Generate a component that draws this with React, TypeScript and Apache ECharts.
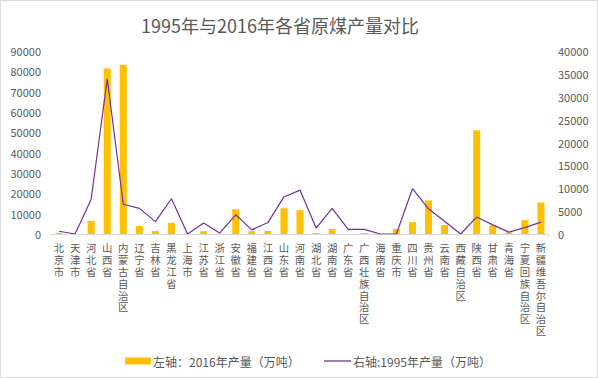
import React, { useEffect, useRef } from "react";
import * as echarts from "echarts";

const provinces = [
  "北京市", "天津市", "河北省", "山西省", "内蒙古自治区", "辽宁省", "吉林省", "黑龙江省",
  "上海市", "江苏省", "浙江省", "安徽省", "福建省", "江西省", "山东省", "河南省",
  "湖北省", "湖南省", "广东省", "广西壮族自治区", "海南省", "重庆市", "四川省", "贵州省",
  "云南省", "西藏自治区", "陕西省", "甘肃省", "青海省", "宁夏回族自治区", "新疆维吾尔自治区",
];

const output2016 = [
  600, 0, 6470, 81400, 83200, 3900, 1500, 5500,
  0, 1400, 0, 12200, 1400, 1500, 12600, 11700,
  500, 2400, 0, 500, 0, 2500, 5800, 16500,
  4400, 0, 51000, 4300, 800, 6800, 15500,
];

const output1995 = [
  600, 0, 7600, 33900, 6500, 5600, 2700, 7700,
  0, 2400, 200, 4200, 900, 2500, 8100, 9600,
  1300, 5600, 1000, 1000, 0, 0, 9900, 5500,
  2800, 0, 3700, 2000, 400, 1400, 2600,
];

const leftTicks = { min: 0, max: 90000, interval: 10000 };
const rightTicks = { min: 0, max: 40000, interval: 5000 };

const seriesNames = ["左轴：2016年产量（万吨）", "右轴:1995年产量（万吨）"];
const titleText = "1995年与2016年各省原煤产量对比";

const FONT = "'Noto Sans CJK SC', 'Liberation Sans', sans-serif";
const LABEL_FONT = "'Liberation Sans', 'Noto Sans CJK SC', sans-serif";
const GRAY = "#595959";
const BAR = "#FFC000";
const LINE = "#7030A0";

export default function App() {
  const ref = useRef<HTMLDivElement>(null);
  useEffect(() => {
    document.body.style.margin = "0";
    if (!ref.current) return;
    const chart = echarts.init(ref.current, undefined, { renderer: "svg" });
    const legendText = { fontSize: 12, color: GRAY, fontFamily: FONT, padding: [0, 0, 0, -3] };
    chart.setOption({
      animation: false,
      backgroundColor: "#ffffff",
      textStyle: { fontFamily: FONT },
      title: {
        text: titleText,
        left: 135,
        top: 10,
        textStyle: { fontSize: 18, fontWeight: "normal", color: GRAY, fontFamily: FONT },
      },
      legend: [
        {
          left: 119,
          top: 349,
          itemWidth: 26,
          itemHeight: 7,
          textStyle: legendText,
          data: [{ name: seriesNames[0], icon: "rect" }],
        },
        {
          left: 318,
          top: 349,
          itemWidth: 27,
          itemHeight: 1.3,
          textStyle: legendText,
          data: [{ name: seriesNames[1], icon: "rect", itemStyle: { color: LINE } }],
        },
      ],
      grid: { left: 50, right: 48, top: 50, bottom: 143, containLabel: false },
      xAxis: {
        type: "category",
        data: provinces,
        axisLine: { lineStyle: { color: "#d9d9d9" } },
        axisTick: { show: false },
        axisLabel: {
          interval: 0,
          fontSize: 10.4,
          lineHeight: 11.8,
          fontFamily: LABEL_FONT,
          color: GRAY,
          margin: 9,
          verticalAlign: "top",
          formatter: (v: string) => v.split("").join("\n"),
        },
      },
      yAxis: [
        {
          type: "value",
          ...leftTicks,
          splitLine: { show: false },
          axisLine: { show: false },
          axisTick: { show: false },
          axisLabel: { fontSize: 11, color: GRAY, margin: 10, formatter: (v: number) => String(v) },
        },
        {
          type: "value",
          ...rightTicks,
          position: "right",
          splitLine: { show: false },
          axisLine: { show: false },
          axisTick: { show: false },
          axisLabel: { fontSize: 11, color: GRAY, margin: 9, formatter: (v: number) => String(v) },
        },
      ],
      series: [
        {
          name: seriesNames[0],
          type: "bar",
          yAxisIndex: 0,
          data: output2016,
          barWidth: 7,
          itemStyle: { color: BAR },
        },
        {
          name: seriesNames[1],
          type: "line",
          yAxisIndex: 1,
          data: output1995,
          symbol: "none",
          showSymbol: false,
          lineStyle: { color: LINE, width: 1.2 },
          itemStyle: { color: LINE },
        },
      ],
    });
    return () => chart.dispose();
  }, []);
  return (
    <div
      ref={ref}
      style={{ width: 598, height: 378, boxSizing: "border-box", border: "1px solid #d9d9d9" }}
    />
  );
}
